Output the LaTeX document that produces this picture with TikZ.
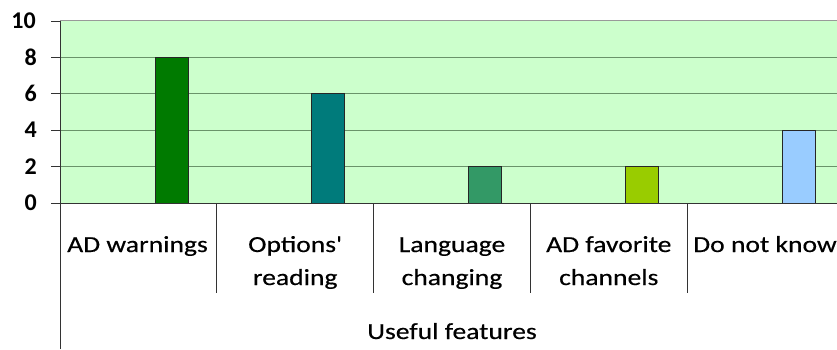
\documentclass[tikz,border=0pt]{standalone}
\usepackage{fontspec}
\setmainfont{Carlito}
\newfontfamily\catfont[FakeStretch=1.2,FakeBold=0.4]{Carlito}
\begin{document}
\begin{tikzpicture}[x=1pt,y=1pt,
  catlabel/.style={anchor=base,inner sep=0pt,font=\catfont\fontsize{23}{33}\selectfont},
  ylabel/.style={anchor=east,inner sep=0pt,font=\fontsize{24}{28}\selectfont\bfseries},
  bar/.style={draw=black!85,line width=0.9pt},
  grid/.style={draw=gridgreen,line width=1pt},
  axis/.style={draw=black!80,line width=0.9pt}]
\definecolor{plotbg}{HTML}{CCFFCC}
\definecolor{gridgreen}{HTML}{6A936A}
\definecolor{barA}{HTML}{007A00}
\definecolor{barB}{HTML}{007B7B}
\definecolor{barC}{HTML}{339966}
\definecolor{barD}{HTML}{99CC00}
\definecolor{barE}{HTML}{99CCFF}
\useasboundingbox (0,0) rectangle (837,349);
% plot area
\fill[plotbg] (60,146) rectangle (845,328);
\draw[draw=black!40,line width=1pt] (60,328) -- (845,328);
\foreach \v in {2,4,6,8}
  \draw[grid] (60,{146+18.2*\v}) -- (845,{146+18.2*\v});
% bars
\foreach \c/\h/\col in {0/8/barA,1/6/barB,2/2/barC,3/2/barD,4/4/barE}
  \filldraw[bar,fill=\col] ({155+156.8*\c},146) rectangle ({188+156.8*\c},{146+18.2*\h});
% axes and ticks
\draw[axis] (60,0) -- (60,328);
\draw[axis] (51,146) -- (845,146);
\foreach \v in {0,2,...,10}
  \draw[axis] (51,{146+18.2*\v}) -- (60,{146+18.2*\v});
% category dividers
\foreach \c in {1,...,4}
  \draw[axis] ({60+156.8*\c},146) -- ({60+156.8*\c},56);
% y labels
\node[ylabel] (y10) at (36,328) {10};
\node[ylabel] (y8) at (37,291.6) {8};
\node[ylabel] (y6) at (37,255.2) {6};
\node[ylabel] (y4) at (37,218.8) {4};
\node[ylabel] (y2) at (37,182.4) {2};
\node[ylabel] (y0) at (37,146) {0};
% category labels
\node[catlabel] (c1) at (137.5,97) {AD warnings};
\node[catlabel] (c2) at (295.2,97) {\begin{tabular}[t]{@{}c@{}}Options\char"0027\\reading\end{tabular}};
\node[catlabel] (c3) at (452,97) {\begin{tabular}[t]{@{}c@{}}Language\\changing\end{tabular}};
\node[catlabel] (c4) at (608.8,97) {\begin{tabular}[t]{@{}c@{}}AD favorite\\channels\end{tabular}};
\node[catlabel,anchor=base west] (c5) at (693,97) {Do not know};
\node[catlabel] (title) at (452,10) {Useful features};
\end{tikzpicture}
\end{document}
